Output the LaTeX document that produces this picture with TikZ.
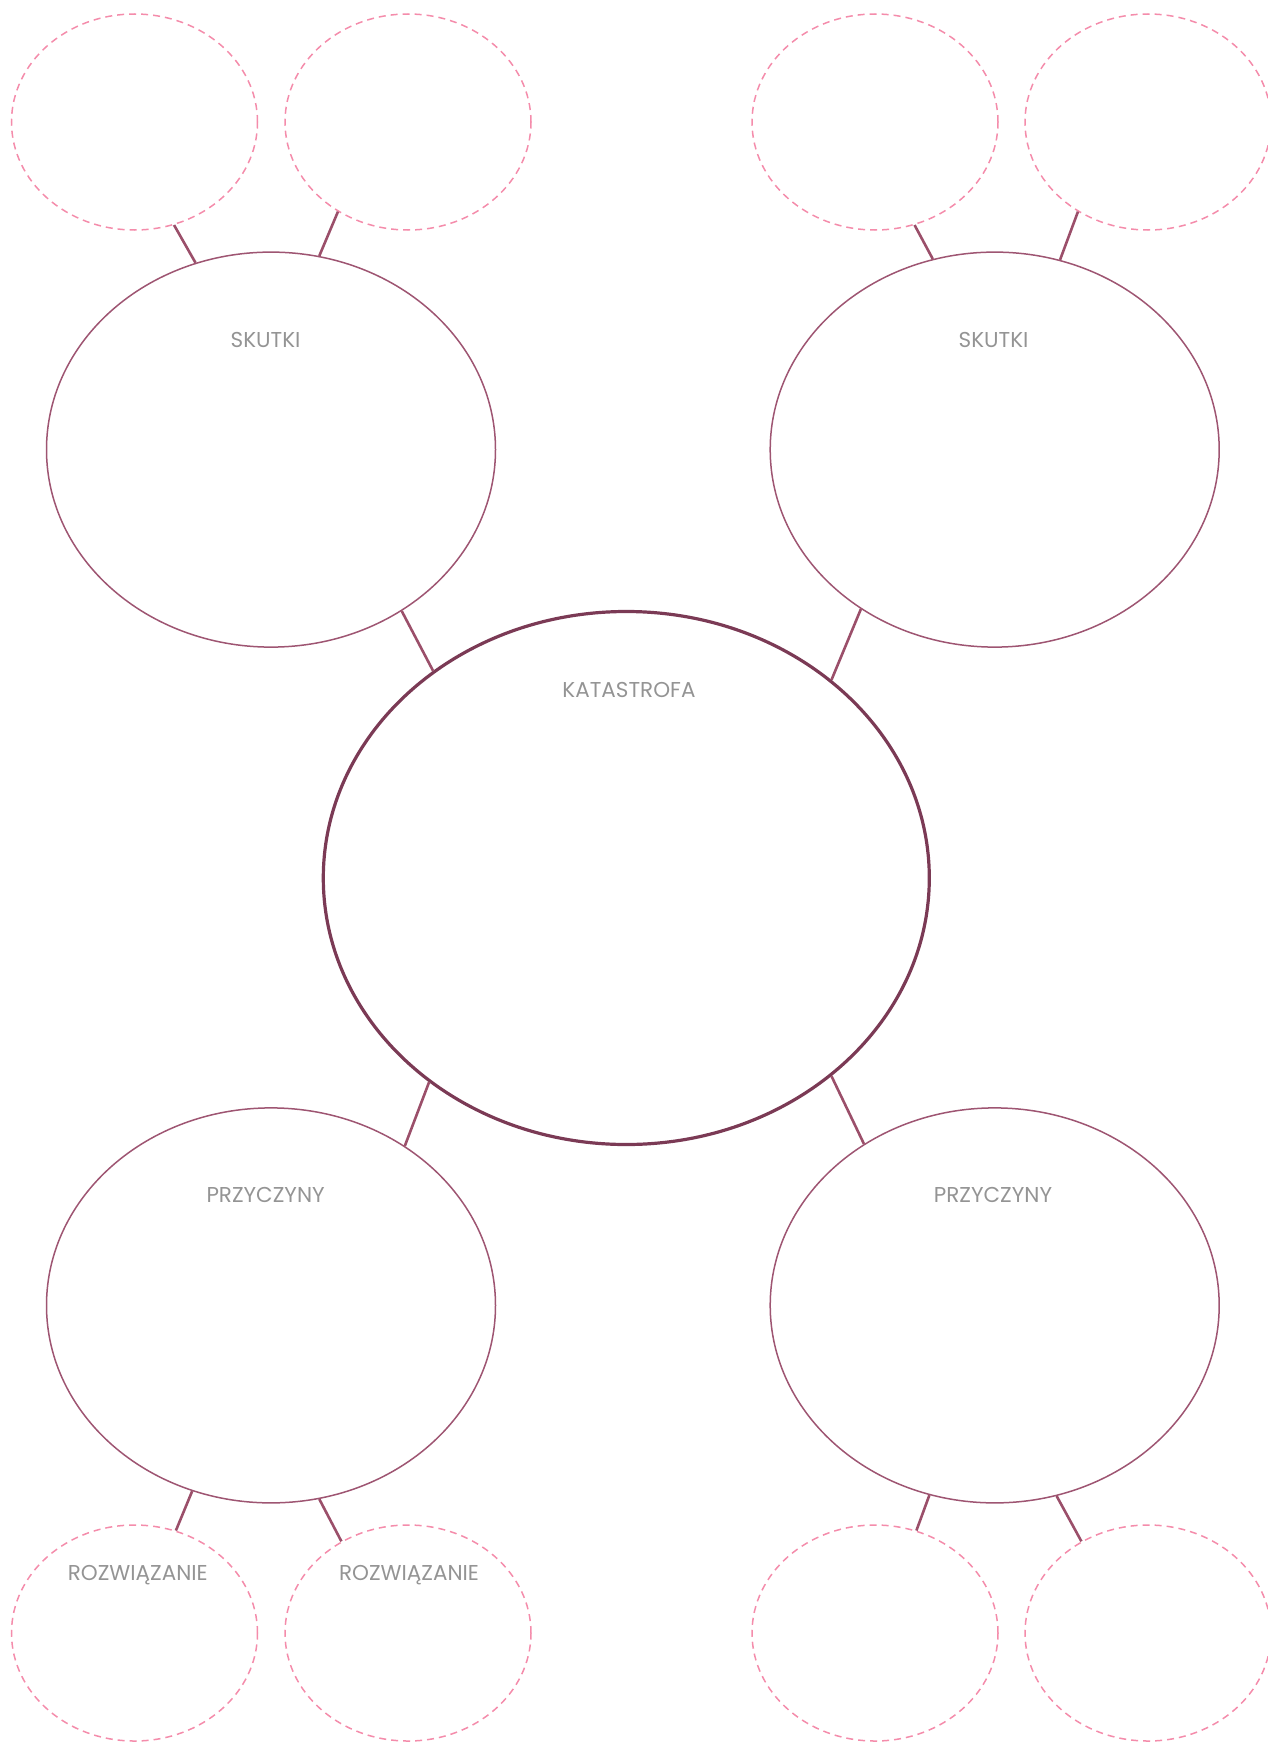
\documentclass[tikz,border=0pt]{standalone}
\usepackage{fontspec}
\setmainfont{Poppins}
\usetikzlibrary{shapes.geometric}
\definecolor{dashpink}{HTML}{F48CAB}
\definecolor{ringplum}{HTML}{9E5572}
\definecolor{coreplum}{HTML}{7B3A55}
\definecolor{linkplum}{HTML}{9B4F6A}
\definecolor{lblgray}{HTML}{949494}
\tikzset{
  idea/.style={ellipse, draw=dashpink, line width=1.5pt, dash pattern=on 7pt off 5pt, inner sep=0pt, minimum width=246pt, minimum height=216pt},
  ring/.style={ellipse, draw=ringplum, line width=1.5pt, inner sep=0pt, minimum width=449pt, minimum height=395pt},
  core/.style={ellipse, draw=coreplum, line width=3.2pt, inner sep=0pt, minimum width=606pt, minimum height=533pt},
  link/.style={draw=linkplum, line width=2.6pt},
  lbl/.style={font=\fontsize{21.5}{26}\selectfont, text=lblgray, inner sep=0pt},
}
\begin{document}
\begin{tikzpicture}[x=1pt,y=-1pt]
  \useasboundingbox (0,0) rectangle (1267,1742);
  % dashed idea circles
  \node[idea] (d1) at (134.5,122) {};
  \node[idea] (d2) at (408,122) {};
  \node[idea] (d3) at (875,122) {};
  \node[idea] (d4) at (1148,122) {};
  \node[idea] (d5) at (134.5,1633) {};
  \node[idea] (d6) at (408,1633) {};
  \node[idea] (d7) at (875,1633) {};
  \node[idea] (d8) at (1148,1633) {};
  % rings and core
  \node[ring] (s1) at (271,449.6) {};
  \node[ring] (s2) at (994.7,449.6) {};
  \node[ring] (s3) at (271,1305.4) {};
  \node[ring] (s4) at (994.7,1305.4) {};
  \node[core] (c) at (626.3,878) {};
  % labels
  \node[lbl] (l1) at (265.6,340) {SKUTKI};
  \node[lbl] (l2) at (993.6,340) {SKUTKI};
  \node[lbl] (l0) at (629,690) {KATASTROFA};
  \node[lbl] (l3) at (265.6,1195) {PRZYCZYNY};
  \node[lbl] (l4) at (993,1195) {PRZYCZYNY};
  \node[lbl] (l5) at (137.8,1575) {ROZWIĄZANIE};
  \node[lbl] (l6) at (409,1575) {ROZWIĄZANIE};
  % links
  \draw[link] (d1.291.5) -- (s1.112.7);
  \draw[link] (d2.232.7) -- (s1.76);
  \draw[link] (d3.291.5) -- (s2.108.3);
  \draw[link] (d4.232.8) -- (s2.71.4);
  \draw[link] (s1.309.5) -- (c.133.5);
  \draw[link] (s2.230.6) -- (c.44);
  \draw[link] (c.226.5) -- (s3.50.6);
  \draw[link] (c.316.2) -- (s4.129.4);
  \draw[link] (s3.247.2) -- (d5.68.5);
  \draw[link] (s3.284) -- (d6.126.9);
  \draw[link] (s4.251.8) -- (d7.68.6);
  \draw[link] (s4.288.5) -- (d8.126.8);
\end{tikzpicture}
\end{document}
